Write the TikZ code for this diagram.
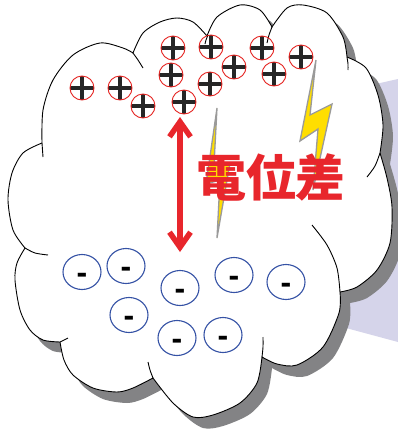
\documentclass[tikz,border=0pt]{standalone}
\usepackage{fontspec}
\usepackage{tikz}
\usetikzlibrary{arrows.meta, shapes.geometric}
\newfontfamily\jpfont{Noto Sans CJK JP}
\newfontfamily\signfont{Liberation Sans}

\definecolor{chargered}{HTML}{E52421}
\definecolor{chargeblue}{HTML}{3552A5}
\definecolor{boltyellow}{HTML}{FFDE00}
\definecolor{boltgray}{HTML}{9A9A9A}
\definecolor{shadowgray}{HTML}{838385}
\definecolor{lavender}{HTML}{D5D4EA}
\definecolor{textred}{HTML}{E8262C}

% outline of the cloud, one smooth piece per bump
\newcommand{\cloudoutline}{%
  plot[smooth] coordinates {(42,143) (43,110) (53,80) (73,55) (100,43) (123,48) (133,53)}
  -- plot[smooth] coordinates {(133,53) (143,33) (160,22) (177,18) (193,22) (207,36)}
  -- plot[smooth] coordinates {(207,36) (217,17) (240,5) (260,10) (272,27)}
  -- plot[smooth] coordinates {(272,27) (287,8) (303,5) (327,13) (343,37) (347,57)}
  -- plot[smooth] coordinates {(347,57) (366,68) (378,95) (383,125) (380,153)}
  -- plot[smooth] coordinates {(380,153) (387,178) (392,207) (390,243) (377,270) (357,287) (340,292)}
  -- plot[smooth] coordinates {(340,292) (339,313) (323,347) (297,365) (277,364) (262,357)}
  -- plot[smooth] coordinates {(262,357) (257,383) (240,403) (213,415) (193,417) (173,403) (153,378)}
  -- plot[smooth] coordinates {(153,378) (133,388) (117,392) (93,388) (73,375) (64,360) (60,342)}
  -- plot[smooth] coordinates {(60,342) (43,340) (30,330) (20,310) (15,280) (17,263) (25,248)}
  -- plot[smooth] coordinates {(25,248) (13,230) (8,200) (12,173) (23,153) (42,143)}
  -- cycle}

\tikzset{
  pluscharge/.style={circle, draw=chargered, line width=0.9pt, minimum size=24pt, inner sep=0pt,
    path picture={
      \draw[line width=3.3pt, black!85]
        ([xshift=-12pt]path picture bounding box.center) -- ([xshift=12pt]path picture bounding box.center)
        ([yshift=-12pt]path picture bounding box.center) -- ([yshift=12pt]path picture bounding box.center);}},
  minuscharge/.style={ellipse, draw=chargeblue, line width=1.1pt, minimum width=38pt, minimum height=35pt,
    inner sep=0pt, font=\signfont\bfseries\fontsize{32}{32}\selectfont, text height=22pt, text depth=0pt},
  bolt/.style={fill=boltyellow, draw=boltgray, line width=1.3pt, line join=miter},
  potential/.style={{Straight Barb[length=15pt,width=21pt]}-{Straight Barb[length=15pt,width=21pt]},
    line width=5.5pt, textred}
}

\begin{document}
\begin{tikzpicture}[x=1pt, y=-1pt]
  % Canvas
  \fill[white] (0,0) rectangle (398,432);
  \useasboundingbox (0,0) rectangle (398,432);

  % Callout behind the cloud
  \fill[lavender] (340,92) -- (398,79) -- (398,342) -- (320,321) -- cycle;

  % Cloud with its drop shadow
  \fill[shadowgray, shift={(10,11)}] \cloudoutline;
  \filldraw[fill=white, draw=black, line width=0.9pt] \cloudoutline;

  % inner bits of the bumps
  \draw[line width=0.9pt] plot[smooth] coordinates {(42,143) (42.5,150) (43,157)};
  \draw[line width=0.9pt] plot[smooth] coordinates {(133,53) (138,60) (143,68)};
  \draw[line width=0.9pt] plot[smooth] coordinates {(208,35) (206,40) (205,44)};
  \draw[line width=0.9pt] plot[smooth] coordinates {(272,27) (269,35) (267,43)};
  \draw[line width=0.9pt] plot[smooth] coordinates {(347,57) (348,64) (348,70)};
  \draw[line width=0.9pt] plot[smooth] coordinates {(380,153) (375,166) (367,177)};
  \draw[line width=0.9pt] plot[smooth] coordinates {(312,225) (327,245) (337,268) (340,292)};
  \draw[line width=0.9pt] plot[smooth] coordinates {(262,357) (263,347) (263,337)};
  \draw[line width=0.9pt] plot[smooth] coordinates {(153,378) (150,370) (148,362)};
  \draw[line width=0.9pt] plot[smooth] coordinates {(60,342) (64,340) (68,338)};
  \draw[line width=0.9pt] plot[smooth] coordinates {(25,248) (35,253) (48,255)};

  % Lightning
  \draw[bolt] (217,108) -- (214,165) -- (230,163) -- (217,238) -- (220,180) -- (206,184) -- cycle;
  \draw[bolt] (316,60) -- (310,115) -- (332,104) -- (313,190) -- (318,129) -- (300,141) -- cycle;

  % --- POSITIVE CHARGES (top of the cloud) ---
  \node[pluscharge] (p1) at (82,88) {};
  \node[pluscharge] (p2) at (120,88) {};
  \node[pluscharge] (p3) at (143,106) {};
  \node[pluscharge] (p4) at (173,48) {};
  \node[pluscharge] (p5) at (171,75) {};
  \node[pluscharge] (p6) at (184,102) {};
  \node[pluscharge] (p7) at (211,47) {};
  \node[pluscharge] (p8) at (210,84) {};
  \node[pluscharge] (p9) at (234,67) {};
  \node[pluscharge] (p10) at (262,48) {};
  \node[pluscharge] (p11) at (274,74) {};
  \node[pluscharge] (p12) at (301,57) {};

  % --- NEGATIVE CHARGES (bottom of the cloud) ---
  \node[minuscharge] (m1) at (82,272) {-};
  \node[minuscharge] (m2) at (126,266) {-};
  \node[minuscharge] (m3) at (180,288) {-};
  \node[minuscharge] (m4) at (234,275) {-};
  \node[minuscharge] (m5) at (286,282) {-};
  \node[minuscharge] (m6) at (129,315) {-};
  \node[minuscharge] (m7) at (177,338) {-};
  \node[minuscharge] (m8) at (223,335) {-};

  % Potential difference
  \coordinate (gaptop) at (180,117);
  \coordinate (gapbot) at (180,252);
  \draw[potential] (gaptop) -- (gapbot);
  \node[textred, font=\jpfont\bfseries\fontsize{50}{50}\selectfont, inner sep=0pt] (pd) at (271,177) {電位差};
\end{tikzpicture}
\end{document}
